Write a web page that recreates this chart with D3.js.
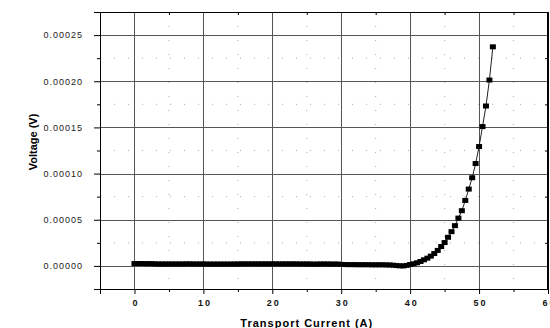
<!DOCTYPE html>
<html>
<head>
<meta charset="utf-8">
<script src="https://cdn.jsdelivr.net/npm/d3@7"></script>
<style>
  body { margin: 0; background: #fff; }
  svg { display: block; }
  .tick text { font-family: Arial, "Liberation Sans", sans-serif; }
</style>
</head>
<body>
<div id="chart"></div>
<script>
// transport current (A) and measured voltage (V)
const current = [
  0, 0.5, 1, 1.5, 2, 2.5, 3, 3.5, 4, 4.5, 5, 5.5, 6, 6.5, 7, 7.5, 8, 8.5, 9, 9.5,
  10, 10.5, 11, 11.5, 12, 12.5, 13, 13.5, 14, 14.5, 15, 15.5, 16, 16.5, 17, 17.5, 18, 18.5, 19, 19.5,
  20, 20.5, 21, 21.5, 22, 22.5, 23, 23.5, 24, 24.5, 25, 25.5, 26, 26.5, 27, 27.5, 28, 28.5, 29, 29.5,
  30, 30.5, 31, 31.5, 32, 32.5, 33, 33.5, 34, 34.5, 35, 35.5, 36, 36.5, 37, 37.5, 38, 38.5, 39, 39.5,
  40, 40.5, 41, 41.5, 42, 42.5, 43, 43.5, 44, 44.5, 45, 45.5, 46, 46.5,
  47, 47.5, 48, 48.5, 49, 49.5, 50, 50.5, 51, 51.5, 52
];
const voltage = [
  2.6e-6, 2.6e-6, 2.6e-6, 2.5e-6, 2.5e-6, 2.4e-6, 2.2e-6, 2.1e-6, 2.1e-6, 2.1e-6,
  2.1e-6, 2.1e-6, 2.1e-6, 2.1e-6, 2.1e-6, 2.2e-6, 2.2e-6, 2.1e-6, 2.1e-6, 2.1e-6,
  2.1e-6, 2.0e-6, 2.0e-6, 2.0e-6, 2.0e-6, 2.0e-6, 2.0e-6, 2.0e-6, 2.0e-6, 2.1e-6,
  2.1e-6, 2.2e-6, 2.2e-6, 2.2e-6, 2.2e-6, 2.2e-6, 2.2e-6, 2.2e-6, 2.2e-6, 2.2e-6,
  2.2e-6, 2.2e-6, 2.2e-6, 2.2e-6, 2.2e-6, 2.2e-6, 2.2e-6, 2.2e-6, 2.1e-6, 2.1e-6,
  2.1e-6, 2.1e-6, 1.9e-6, 2.0e-6, 2.1e-6, 2.1e-6, 2.1e-6, 2.0e-6, 2.0e-6, 2.0e-6,
  1.6e-6, 1.5e-6, 1.4e-6, 1.4e-6, 1.4e-6, 1.3e-6, 1.3e-6, 1.3e-6, 1.3e-6, 1.2e-6,
  1.2e-6, 1.2e-6, 1.2e-6, 1.1e-6, 1.0e-6, 0.8e-6, 0.4e-6, 0.1e-6, 0.0e-6, 0.6e-6,
  1.5e-6, 2.3e-6, 3.4e-6, 4.8e-6, 6.6e-6, 8.4e-6, 10.6e-6, 13.4e-6, 16.8e-6,
  21.0e-6, 25.3e-6, 31.0e-6, 37.1e-6, 43.6e-6,
  51.8e-6, 59.8e-6, 70.9e-6, 83.2e-6, 95.5e-6, 110.9e-6, 129.3e-6, 150.9e-6, 173.2e-6,
  201.3e-6, 237.3e-6
];
const xTicks = [0, 10, 20, 30, 40, 50, 60];
const xMinor = [-5, 5, 15, 25, 35, 45, 55];
const yTicks = [0, 0.00005, 0.0001, 0.00015, 0.0002, 0.00025];
const yMinor = [-0.000025, 0.000025, 0.000075, 0.000125, 0.000175, 0.000225, 0.000275];

const W = 550, H = 328;
const margin = { top: 12, right: 2, bottom: 39, left: 100 };
const width = W - margin.left - margin.right;
const height = H - margin.top - margin.bottom;

const svg = d3.select('#chart').append('svg')
  .attr('width', W)
  .attr('height', H);
const g = svg.append('g')
  .attr('transform', `translate(${margin.left},${margin.top})`);

const x = d3.scaleLinear().domain([-5, 60]).range([0, width]);
const y = d3.scaleLinear().domain([-0.000025, 0.000275]).range([height, 0]);

// minor dotted grid
g.append('g').selectAll('line').data(xMinor.slice(1)).join('line')
  .attr('x1', d => x(d)).attr('x2', d => x(d))
  .attr('y1', 0).attr('y2', height)
  .attr('stroke', '#aaa').attr('stroke-dasharray', '1,13');
g.append('g').selectAll('line').data(yMinor.slice(1, -1)).join('line')
  .attr('y1', d => y(d)).attr('y2', d => y(d))
  .attr('x1', 0).attr('x2', width)
  .attr('stroke', '#aaa').attr('stroke-dasharray', '1,13');

// major grid
g.append('g').selectAll('line').data(xTicks.slice(0, -1)).join('line')
  .attr('x1', d => Math.round(x(d)) + 0.5).attr('x2', d => Math.round(x(d)) + 0.5)
  .attr('y1', 0).attr('y2', height)
  .attr('stroke', '#555').attr('stroke-width', 1);
g.append('g').selectAll('line').data(yTicks).join('line')
  .attr('y1', d => Math.round(y(d)) + 0.5).attr('y2', d => Math.round(y(d)) + 0.5)
  .attr('x1', 0).attr('x2', width)
  .attr('stroke', '#555').attr('stroke-width', 1);

// axes
const yAxis = g.append('g')
  .call(d3.axisLeft(y).tickValues(yTicks).tickSize(6).tickPadding(11)
    .tickFormat(d3.format('.5f')));
g.append('g')
  .call(d3.axisLeft(y).tickValues(yMinor).tickSize(3).tickFormat(''));
yAxis.selectAll('text')
  .attr('font-size', 9).attr('letter-spacing', '1px').attr('fill', '#222');

const xAxis = g.append('g')
  .attr('transform', `translate(0,${height})`)
  .call(d3.axisBottom(x).tickValues(xTicks).tickSize(5).tickPadding(6));
g.append('g')
  .attr('transform', `translate(0,${height})`)
  .call(d3.axisBottom(x).tickValues(xMinor).tickSize(3).tickFormat(''));
xAxis.selectAll('text')
  .attr('font-size', 9).attr('font-weight', 'bold').attr('letter-spacing', '2px')
  .attr('dx', '1px').attr('fill', '#111');

// mirrored inward ticks on top and right
g.append('g')
  .call(d3.axisBottom(x).tickValues(xMinor.slice(1)).tickSize(3).tickFormat(''));
g.append('g')
  .attr('transform', `translate(${width},0)`)
  .call(d3.axisLeft(y).tickValues(yMinor.slice(1, -1)).tickSize(3).tickFormat(''));

g.selectAll('.domain').attr('stroke', '#000');

// frame
g.append('rect')
  .attr('x', 0.5).attr('y', 0.5)
  .attr('width', width - 1).attr('height', height)
  .attr('fill', 'none').attr('stroke', '#000');

// data line and markers
const pts = current.map((c, i) => [c, voltage[i]]);
g.append('path')
  .datum(pts)
  .attr('fill', 'none')
  .attr('stroke', '#222')
  .attr('stroke-width', 1)
  .attr('d', d3.line().x(d => x(d[0])).y(d => y(d[1])));
g.append('g').selectAll('rect').data(pts).join('rect')
  .attr('x', d => x(d[0]) - 3)
  .attr('y', d => y(d[1]) - 2.5)
  .attr('width', 6)
  .attr('height', 5)
  .attr('fill', '#000');

// axis titles
svg.append('text')
  .attr('transform', `translate(37,${margin.top + 130}) rotate(-90)`)
  .attr('text-anchor', 'middle')
  .attr('font-family', 'Arial, "Liberation Sans", sans-serif')
  .attr('font-size', 11)
  .attr('font-weight', 'bold')
  .text('Voltage (V)');
svg.append('text')
  .attr('x', margin.left + x(25))
  .attr('y', 327)
  .attr('text-anchor', 'middle')
  .attr('font-family', 'Arial, "Liberation Sans", sans-serif')
  .attr('font-size', 11)
  .attr('font-weight', 'bold')
  .attr('letter-spacing', '1px')
  .text('Transport Current (A)');
</script>
</body>
</html>
